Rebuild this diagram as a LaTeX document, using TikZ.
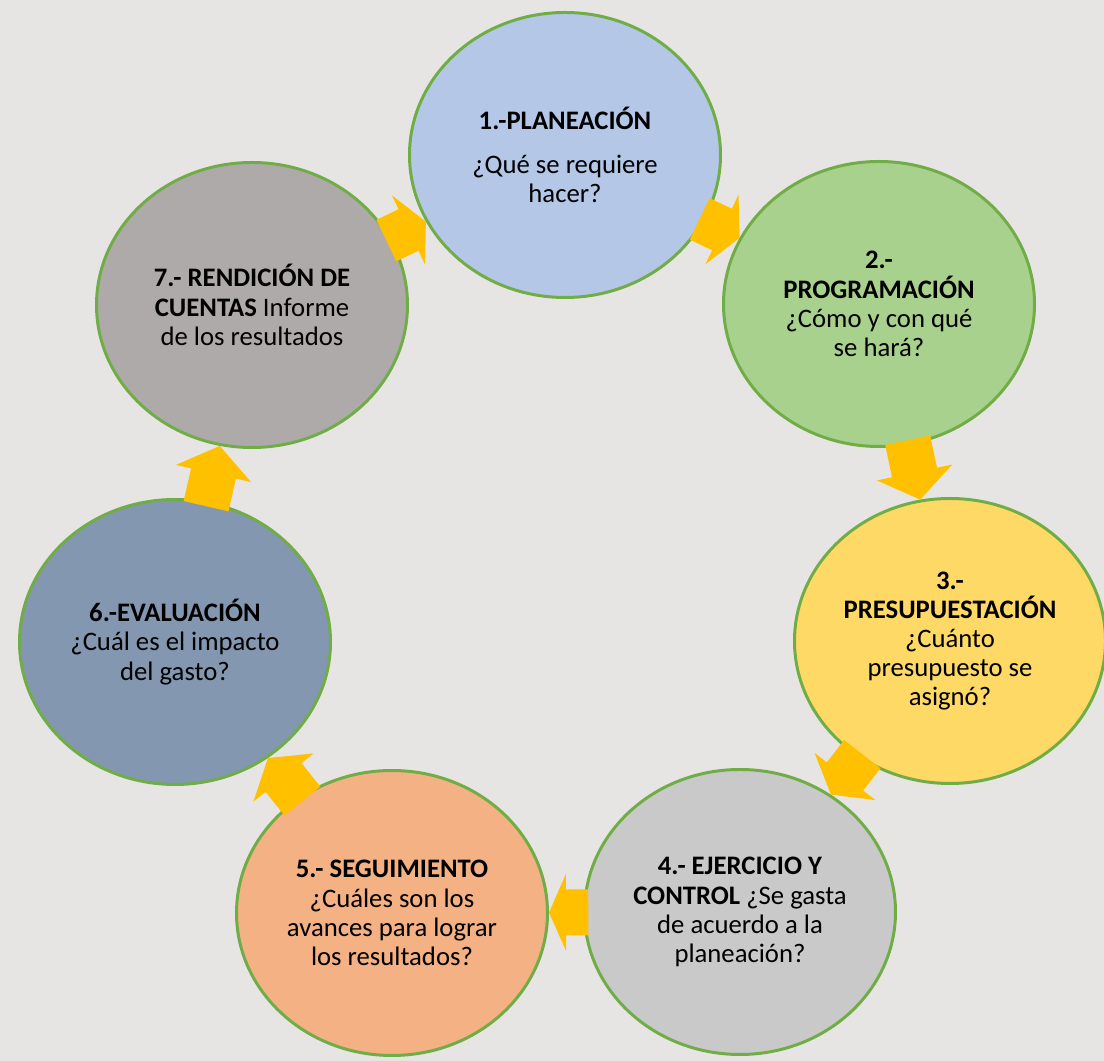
\documentclass[tikz,border=0pt]{standalone}
\usepackage{fontspec}
\setmainfont{Carlito}
\usetikzlibrary{shapes.geometric,calc}

\definecolor{fondo}{HTML}{E7E5E4}
\definecolor{bordeverde}{HTML}{70AD47}
\definecolor{flechaamarilla}{HTML}{FFC000}
\definecolor{azul}{HTML}{B4C7E7}
\definecolor{verde}{HTML}{A9D18E}
\definecolor{amarillo}{HTML}{FFD966}
\definecolor{grisclaro}{HTML}{C9C9C9}
\definecolor{salmon}{HTML}{F4B183}
\definecolor{pizarra}{HTML}{8497B0}
\definecolor{grisoscuro}{HTML}{AEAAAA}

\tikzset{
  etapa/.style={ellipse, draw=bordeverde, line width=1.7pt, minimum width=6.22cm,
    minimum height=5.7cm, inner sep=0pt, align=center,
    font=\fontsize{15.2}{16.6}\selectfont},
  flecha/.style={fill=flechaamarilla}
}

\begin{document}
\begin{tikzpicture}
\useasboundingbox (0,0) rectangle (22.08,21.22);
\fill[fondo] (0,0) rectangle (22.08,21.22);

\node[etapa, fill=azul] (plan) at (11.30,18.12)
  {\textbf{1.-PLANEACIÓN}\\[8pt]¿Qué se requiere\\hacer?};
\node[etapa, fill=verde] (prog) at (17.58,15.14)
  {\textbf{2.-}\\\textbf{PROGRAMACIÓN}\\¿Cómo y con qué\\se hará?};
\node[etapa, fill=amarillo] (presu) at (19.00,8.40)
  {\textbf{3.-}\\\textbf{PRESUPUESTACIÓN}\\¿Cuánto\\presupuesto se\\asignó?};
\node[etapa, fill=grisclaro] (ejer) at (14.80,2.98)
  {\textbf{4.- EJERCICIO Y}\\\textbf{CONTROL} ¿Se gasta\\de acuerdo a la\\planeación?};
\node[etapa, fill=salmon] (segui) at (7.84,2.96)
  {\textbf{5.- SEGUIMIENTO}\\¿Cuáles son los\\avances para lograr\\los resultados?};
\node[etapa, fill=pizarra] (eval) at (3.50,8.38)
  {\textbf{6.-EVALUACIÓN}\\¿Cuál es el impacto\\del gasto?};
\node[etapa, fill=grisoscuro] (rend) at (5.04,15.12)
  {\textbf{7.- RENDICIÓN DE}\\\textbf{CUENTAS} Informe\\de los resultados};

% flechas del ciclo
\foreach \src/\dst in {plan/prog,prog/presu,presu/ejer,ejer/segui,segui/eval,eval/rend,rend/plan}{
  \path (\src) -- (\dst) coordinate[pos=0] (t0) coordinate[pos=0.5] (m) coordinate[pos=1] (h);
  \coordinate (t) at ($(t0)!-3pt!(h)$);
  \fill[flecha] ($(t)!0.46cm!90:(h)$) -- ($(m)!0.46cm!90:(h)$) -- ($(m)!0.77cm!90:(h)$) -- (h)
    -- ($(m)!0.77cm!-90:(h)$) -- ($(m)!0.46cm!-90:(h)$) -- ($(t)!0.46cm!-90:(h)$) -- cycle;
}
\end{tikzpicture}
\end{document}
